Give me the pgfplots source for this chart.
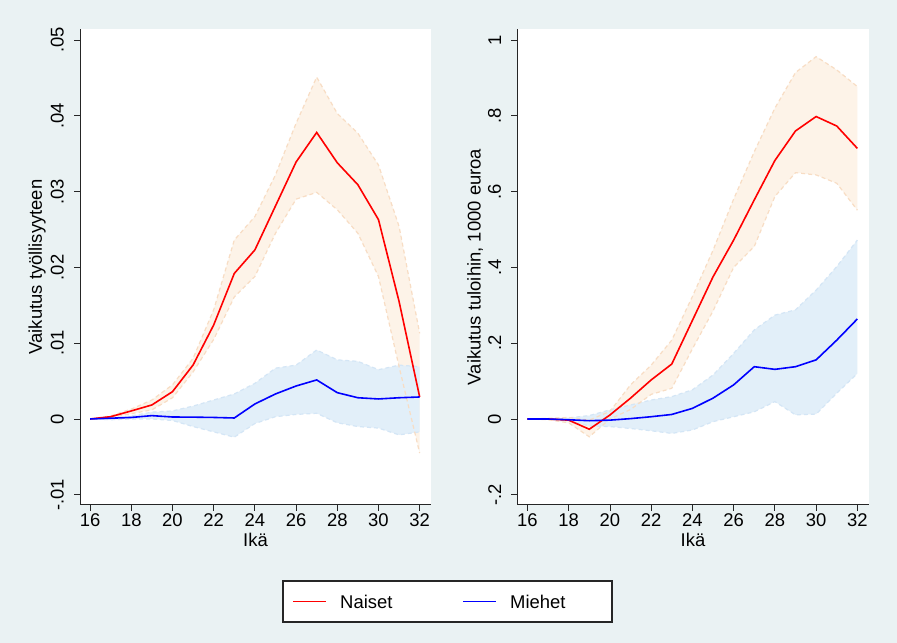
\documentclass[border=0pt]{standalone}
\usepackage{fontspec}
\setmainfont{Liberation Sans}
\usepackage{xcolor}
\usepackage{pgfplots}
\pgfplotsset{compat=1.18}
\usepackage{pgfplotstable}
\usepgfplotslibrary{fillbetween}

\definecolor{bgc}{RGB}{234,242,243}
\definecolor{cinaiset}{RGB}{253,243,232}
\definecolor{cinaisetb}{RGB}{248,221,196}
\definecolor{cimiehet}{RGB}{226,239,249}
\definecolor{cimiehetb}{RGB}{212,230,246}
\pagecolor{bgc}

% vasen paneeli: työllisyys
\pgfplotstableread{
age est lo hi
16 0 0 0
17 0.0003 0.0002 0.0004
18 0.00106 0.0007 0.0013
19 0.00185 0.0012 0.0025
20 0.0036 0.0028 0.0045
21 0.00712 0.0062 0.0080
22 0.0124 0.0105 0.0144
23 0.0192 0.0161 0.0236
24 0.0223 0.0188 0.0267
25 0.0281 0.0245 0.0322
26 0.0339 0.0290 0.0390
27 0.0378 0.0299 0.0451
28 0.0338 0.0276 0.0403
29 0.0309 0.0245 0.0377
30 0.0263 0.0188 0.0335
31 0.0155 0.0069 0.0254
32 0.0029 -0.0045 0.0113
}\Ln
\pgfplotstableread{
age est lo hi
16 0 0 0
17 0.0001 -0.0001 0.0001
18 0.0002 0.0000 0.0004
19 0.00044 0.0000 0.0009
20 0.00026 -0.0002 0.00106
21 0.00024 -0.0010 0.0017
22 0.0002 -0.0017 0.0025
23 0.00013 -0.0024 0.0033
24 0.00198 -0.0006 0.0047
25 0.0033 0.0003 0.0067
26 0.00435 0.0006 0.0071
27 0.00515 0.00075 0.0091
28 0.00347 -0.0005 0.0078
29 0.0028 -0.0010 0.0076
30 0.00264 -0.0012 0.0065
31 0.0028 -0.0021 0.0071
32 0.0029 -0.0017 0.0069
}\Lm
% oikea paneeli: tulot
\pgfplotstableread{
age est lo hi
16 0 0 0
17 0 -0.002 0.002
18 -0.003 -0.010 0.004
19 -0.027 -0.047 -0.003
20 0.0105 0.000 0.020
21 0.055 0.025 0.090
22 0.103 0.065 0.142
23 0.145 0.081 0.208
24 0.260 0.185 0.323
25 0.375 0.285 0.445
26 0.472 0.400 0.580
27 0.578 0.455 0.705
28 0.682 0.587 0.820
29 0.760 0.650 0.914
30 0.798 0.644 0.956
31 0.773 0.622 0.921
32 0.714 0.551 0.877
}\Rn
\pgfplotstableread{
age est lo hi
16 0 0 0
17 0 0 0
18 -0.002 -0.005 0.003
19 -0.0045 -0.018 0.009
20 -0.003 -0.020 0.024
21 0.001 -0.025 0.037
22 0.006 -0.031 0.050
23 0.012 -0.038 0.059
24 0.028 -0.029 0.077
25 0.055 -0.007 0.116
26 0.090 0.006 0.173
27 0.138 0.019 0.235
28 0.131 0.046 0.274
29 0.138 0.011 0.288
30 0.156 0.013 0.340
31 0.208 0.068 0.402
32 0.264 0.120 0.472
}\Rm

\newcommand{\fnt}{\fontsize{18.5}{22}\selectfont}
\tikzset{
  bnd/.style={line width=1.2bp, dash pattern=on 4bp off 3bp},
  est/.style={line width=1.6bp},
}

\pgfplotsset{
  stata/.style={
    scale only axis, height=476bp,
    axis lines*=left,
    axis background/.style={fill=white},
    xmin=15.51, xmax=32.55, xtick={16,18,...,32},
    scaled y ticks=false,
    /pgf/number format/assume math mode=true,
    tick align=outside, major tick length=6bp,
    tick style={black!85, line width=0.8bp},
    axis line style={black!85, line width=1bp},
    xticklabel style={font=\fnt, anchor=north, inner sep=0pt, yshift=-2.5bp},
    yticklabel style={font=\fnt, xshift=-10bp, rotate=90, anchor=south, inner sep=0pt},
    xlabel={Ikä},
    every axis x label/.style={at={(axis description cs:0.5,-0.0735)}, anchor=center, font=\fnt},
  },
}

\begin{document}
\begin{tikzpicture}
\path (0,0) rectangle (897bp,643bp);

\begin{axis}[stata, at={(80bp,138bp)}, anchor=south west, width=351bp,
  ymin=-0.01135, ymax=0.05145,
  ytick={-0.01,0,0.01,0.02,0.03,0.04,0.05},
  yticklabels={-.01,0,.01,.02,.03,.04,.05},
  ylabel={Vaikutus työllisyyteen},
  every axis y label/.style={at={(axis description cs:-0.1225,0.5)}, rotate=90, anchor=center, font=\fnt},
]
\addplot[draw=none, forget plot, name path=mu] table[x=age,y=hi]{\Lm};
\addplot[draw=none, forget plot, name path=ml] table[x=age,y=lo]{\Lm};
\addplot[draw=none, forget plot, name path=nu] table[x=age,y=hi]{\Ln};
\addplot[draw=none, forget plot, name path=nl] table[x=age,y=lo]{\Ln};
\addplot[fill=cinaiset, draw=none, forget plot] fill between[of=nu and nl];
\addplot[fill=cimiehet, draw=none, forget plot] fill between[of=mu and ml];
\addplot[cimiehetb, bnd, forget plot] table[x=age,y=hi]{\Lm};
\addplot[cimiehetb, bnd, forget plot] table[x=age,y=lo]{\Lm};
\addplot[cinaisetb, bnd, forget plot] table[x=age,y=hi]{\Ln};
\addplot[cinaisetb, bnd, forget plot] table[x=age,y=lo]{\Ln};
\addplot[red, est] table[x=age,y=est]{\Ln};
\addplot[blue, est] table[x=age,y=est]{\Lm};
\end{axis}

\begin{axis}[stata, at={(517.3bp,138bp)}, anchor=south west, width=351.4bp,
  ymin=-0.2269, ymax=1.029,
  ytick={-0.2,0,0.2,0.4,0.6,0.8,1},
  yticklabels={-.2,0,.2,.4,.6,.8,1},
  ylabel={Vaikutus tuloihin, 1000 euroa},
  every axis y label/.style={at={(axis description cs:-0.120,0.5)}, rotate=90, anchor=center, font=\fnt},
]
\addplot[draw=none, forget plot, name path=mu] table[x=age,y=hi]{\Rm};
\addplot[draw=none, forget plot, name path=ml] table[x=age,y=lo]{\Rm};
\addplot[draw=none, forget plot, name path=nu] table[x=age,y=hi]{\Rn};
\addplot[draw=none, forget plot, name path=nl] table[x=age,y=lo]{\Rn};
\addplot[fill=cinaiset, draw=none, forget plot] fill between[of=nu and nl];
\addplot[fill=cimiehet, draw=none, forget plot] fill between[of=mu and ml];
\addplot[cimiehetb, bnd, forget plot] table[x=age,y=hi]{\Rm};
\addplot[cimiehetb, bnd, forget plot] table[x=age,y=lo]{\Rm};
\addplot[cinaisetb, bnd, forget plot] table[x=age,y=hi]{\Rn};
\addplot[cinaisetb, bnd, forget plot] table[x=age,y=lo]{\Rn};
\addplot[red, est] table[x=age,y=est]{\Rn};
\addplot[blue, est] table[x=age,y=est]{\Rm};
\end{axis}

% selite (legend)
\draw[black!85, line width=1.2bp, fill=white] (283bp,21bp) rectangle (612bp,62bp);
\draw[red, line width=1.4bp] (293bp,41.3bp) -- (326bp,41.3bp);
\node[anchor=west, inner sep=0pt, font=\fnt] at (340bp,41.3bp) {Naiset};
\draw[blue, line width=1.4bp] (463bp,41.3bp) -- (496bp,41.3bp);
\node[anchor=west, inner sep=0pt, font=\fnt] at (510bp,41.3bp) {Miehet};
\end{tikzpicture}
\end{document}
